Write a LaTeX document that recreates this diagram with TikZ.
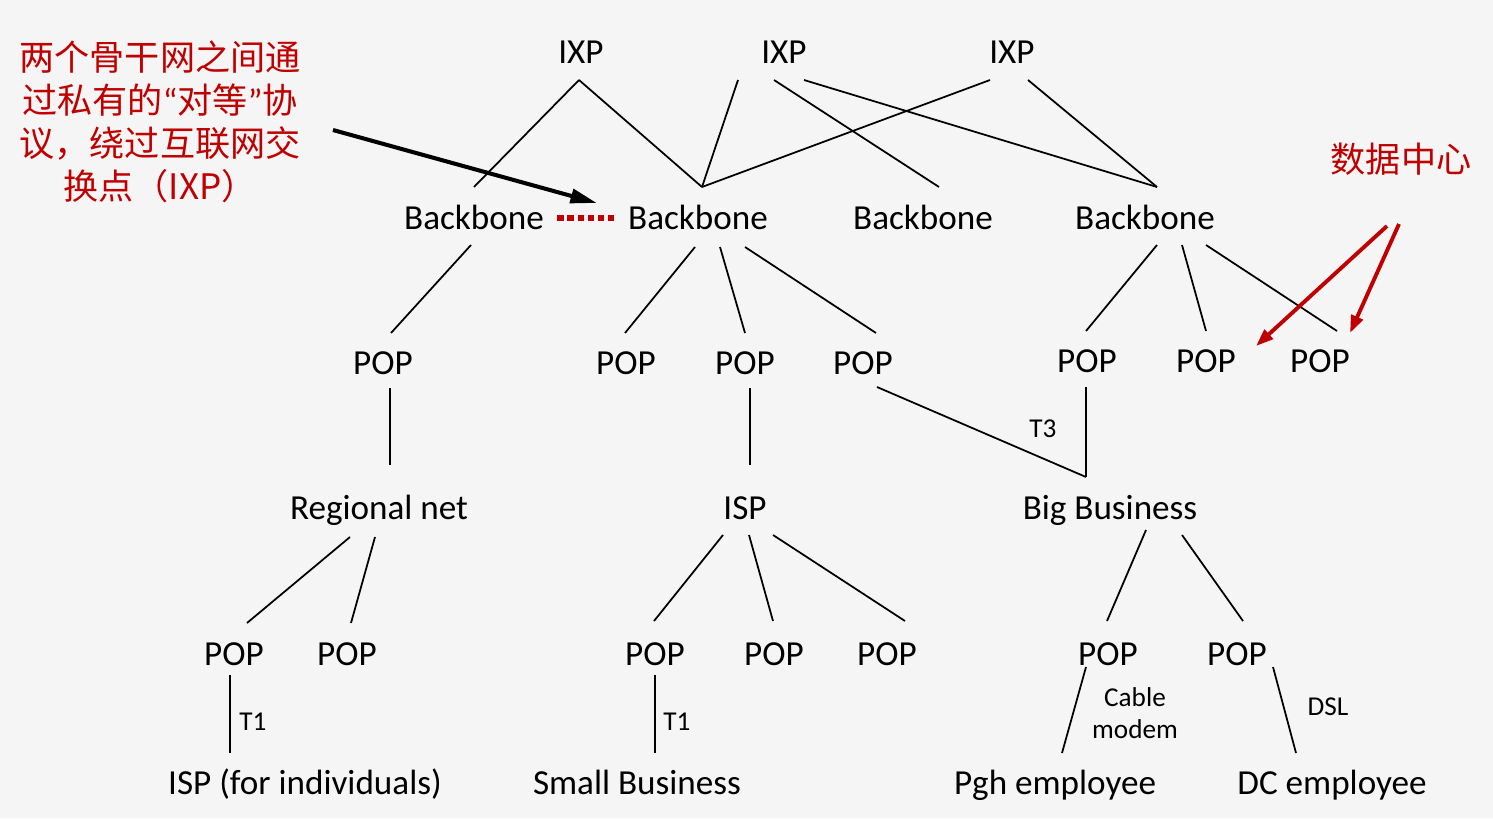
\documentclass[tikz,border=0pt]{standalone}
\usepackage{fontspec}
\setmainfont{Carlito}
\newfontfamily\cjk{Noto Sans CJK SC}
\newfontfamily\latinq{Carlito}
\usetikzlibrary{calc,arrows.meta}
\definecolor{dred}{RGB}{192,0,0}
\definecolor{bggray}{RGB}{245,245,245}

\begin{document}
\begin{tikzpicture}[x=0.02cm,y=-0.02cm,
  lbl/.style={inner sep=0pt,font=\fontsize{20}{24}\selectfont,text height=1.3em,text depth=0pt},
  sml/.style={inner sep=0pt,align=center,font=\fontsize{15.5}{18.2}\selectfont},
  note/.style={inner sep=0pt,align=center,text=dred,font=\cjk\fontsize{20}{24.5}\selectfont},
  lnk/.style={line width=1pt},
  pointer/.style={line width=2.3pt,-{Triangle[length=15pt,width=8pt]}},
  redpointer/.style={dred,line width=2.2pt,-{Triangle[length=10pt,width=7pt]}}]
\fill[bggray] (0,0) rectangle (1493,818);

% exchange points and backbones
\node[lbl] (ixpA) at (581,52) {IXP};
\node[lbl] (ixpB) at (784,52) {IXP};
\node[lbl] (ixpC) at (1012,52) {IXP};
\node[lbl] (bbA) at (474,218) {Backbone};
\node[lbl] (bbB) at (698,218) {Backbone};
\node[lbl] (bbC) at (923,218) {Backbone};
\node[lbl] (bbD) at (1145,218) {Backbone};

% first row of POPs
\node[lbl] (popA) at (383,363) {POP};
\node[lbl] (popB) at (626,363) {POP};
\node[lbl] (popC) at (745,363) {POP};
\node[lbl] (popD) at (863,363) {POP};
\node[lbl] (popE) at (1087,361) {POP};
\node[lbl] (popF) at (1206,361) {POP};
\node[lbl] (popG) at (1320,361) {POP};

\node[lbl] (reg) at (379,508) {Regional net};
\node[lbl] (isp) at (745,508) {ISP};
\node[lbl] (big) at (1110,508) {Big Business};

% second row of POPs
\node[lbl] (popH) at (234,654) {POP};
\node[lbl] (popI) at (347,654) {POP};
\node[lbl] (popJ) at (655,654) {POP};
\node[lbl] (popK) at (774,654) {POP};
\node[lbl] (popL) at (887,654) {POP};
\node[lbl] (popM) at (1108,654) {POP};
\node[lbl] (popN) at (1237,654) {POP};

\node[lbl] (indiv) at (305,783) {ISP (for individuals)};
\node[lbl] (small) at (637,783) {Small Business};
\node[lbl] (pgh) at (1055,783) {Pgh employee};
\node[lbl] (dc) at (1332,783) {DC employee};

% link labels
\node[sml] (tthree) at (1043,429) {T3};
\node[sml] (toneA) at (253,722) {T1};
\node[sml] (toneB) at (677,722) {T1};
\node[sml] (cable) at (1135,713) {Cable\\modem};
\node[sml] (dsl) at (1328,707) {DSL};

% notes
\node[note] (peer) at (160,122) {两个骨干网之间通\\过私有的{\latinq “}对等{\latinq ”}协\\议，绕过互联网交\\换点（IXP）};
\node[note] (dcnote) at (1401,159) {数据中心};

% IXP links
\draw[lnk] ($(ixpA)+(-2,28)$) -- ($(bbA)+(0,-31)$);
\draw[lnk] ($(ixpA)+(-2,28)$) -- ($(bbB)+(4,-31)$);
\draw[lnk] ($(ixpB)+(-46,28)$) -- ($(bbB)+(4,-31)$);
\draw[lnk] ($(ixpB)+(-10,28)$) -- ($(bbC)+(16,-31)$);
\draw[lnk] ($(ixpB)+(20,28)$) -- ($(bbD)+(12,-31)$);
\draw[lnk] ($(ixpC)+(-22,28)$) -- ($(bbB)+(4,-31)$);
\draw[lnk] ($(ixpC)+(16,28)$) -- ($(bbD)+(12,-31)$);

% backbone to POP
\draw[lnk] ($(bbA)+(-3,27)$) -- ($(popA)+(8,-30)$);
\draw[lnk] ($(bbB)+(-3,29)$) -- ($(popB)+(-1,-30)$);
\draw[lnk] ($(bbB)+(22,29)$) -- ($(popC)+(0,-30)$);
\draw[lnk] ($(bbB)+(47,29)$) -- ($(popD)+(13,-30)$);
\draw[lnk] ($(bbD)+(12,27)$) -- ($(popE)+(-1,-30)$);
\draw[lnk] ($(bbD)+(37,27)$) -- ($(popF)+(0,-30)$);
\draw[lnk] ($(bbD)+(61,27)$) -- ($(popG)+(17,-30)$);

% POP to networks
\draw[lnk] ($(popA)+(7,25)$) -- ($(reg)+(11,-43)$);
\draw[lnk] ($(popC)+(5,25)$) -- ($(isp)+(5,-43)$);
\draw[lnk] ($(popD)+(14,24)$) -- ($(big)+(-24,-31)$);
\draw[lnk] ($(popE)+(-1,26)$) -- ($(big)+(-24,-31)$);

% networks to POP
\draw[lnk] ($(reg)+(-29,29)$) -- ($(popH)+(13,-31)$);
\draw[lnk] ($(reg)+(-4,29)$) -- ($(popI)+(4,-31)$);
\draw[lnk] ($(isp)+(-22,27)$) -- ($(popJ)+(-1,-33)$);
\draw[lnk] ($(isp)+(4,27)$) -- ($(popK)+(-1,-33)$);
\draw[lnk] ($(isp)+(28,27)$) -- ($(popL)+(18,-33)$);
\draw[lnk] ($(big)+(36,22)$) -- ($(popM)+(-1,-33)$);
\draw[lnk] ($(big)+(72,27)$) -- ($(popN)+(6,-33)$);

% access links
\draw[lnk] ($(popH)+(-4,21)$) -- ($(indiv)+(-75,-30)$);
\draw[lnk] ($(popJ)+(0,21)$) -- ($(small)+(18,-30)$);
\draw[lnk] ($(popM)+(-22,13)$) -- ($(pgh)+(7,-30)$);
\draw[lnk] ($(popN)+(36,13)$) -- ($(dc)+(-36,-30)$);

% private peering and pointers
\draw[dred,line width=3.2pt,dash pattern=on 3.6pt off 2.2pt] ($(bbA.east)+(13,0)$) -- ($(bbB.west)+(-11,0)$);
\draw[pointer] ($(peer)+(173,8)$) -- ($(bbB.west)+(-31,-15)$);
\draw[redpointer] ($(dcnote)+(-14,67)$) -- ($(popF)+(50,-15)$);
\draw[redpointer] ($(dcnote)+(-2,65)$) -- ($(popG)+(30,-28)$);
\end{tikzpicture}
\end{document}
